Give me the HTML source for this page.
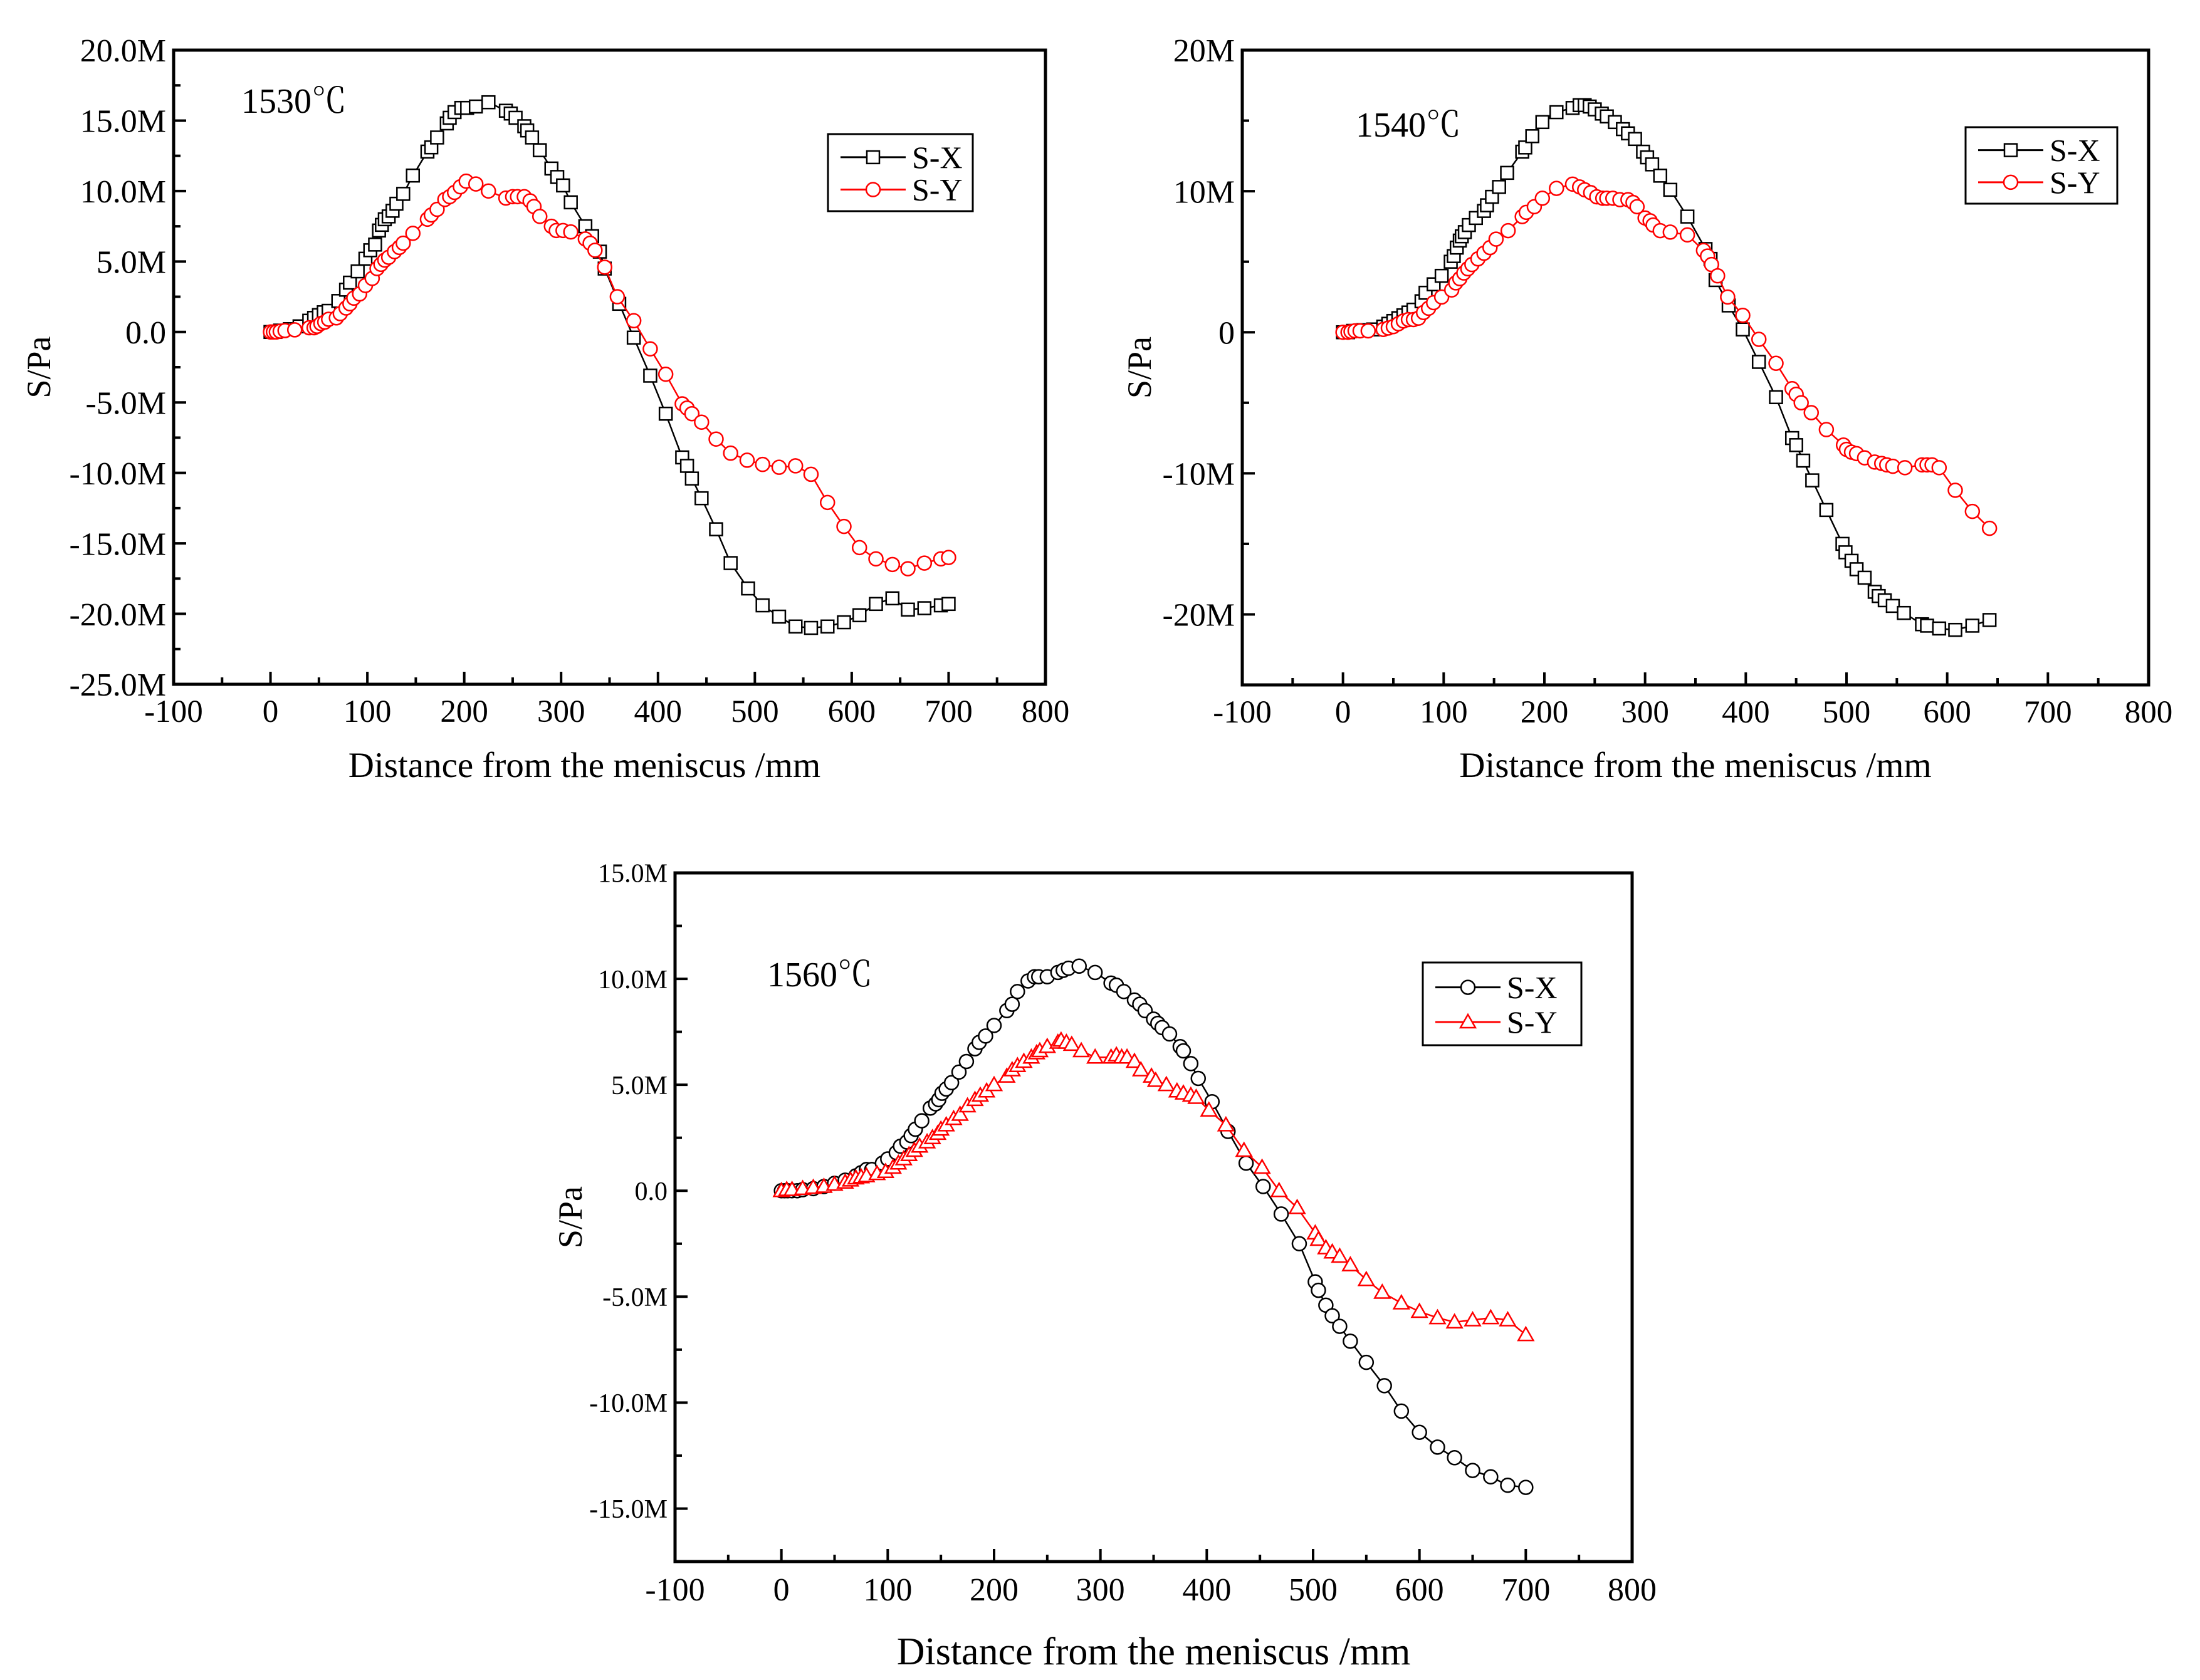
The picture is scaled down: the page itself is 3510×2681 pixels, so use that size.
<!DOCTYPE html>
<html><head><meta charset="utf-8"><style>
html,body{margin:0;padding:0;background:#fff;}
svg{display:block;font-family:"Liberation Serif","Noto Serif CJK SC",serif;}
</style></head><body>
<svg id="fig" width="3510" height="2681" viewBox="0 0 3510 2681" xmlns="http://www.w3.org/2000/svg"></svg>
<script>
// ---- Chart 1 (1530C) data ----
const c1X_x=[0,5,10,20,30,40,45,50,55,60,70,78,82,90,98,103,108,112,115,118,122,126,130,137,147,162,166,172,182,185,190,197,203,212,225,243,248,253,262,265,270,278,290,296,302,310,325,332,340,345,360,375,392,408,425,430,435,445,460,475,493,508,525,542,558,575,592,608,625,642,658,675,692,700];
const c1X_y=[0,0,0.1,0.2,0.4,0.8,1.0,1.2,1.4,1.5,2.2,3.0,3.5,4.3,5.2,5.8,6.2,7.2,7.6,8.0,8.2,8.6,9.1,9.8,11.1,12.8,13.1,13.8,14.8,15.2,15.6,15.9,15.9,16.0,16.3,15.7,15.5,15.2,14.6,14.3,13.8,12.9,11.6,11.0,10.4,9.2,7.5,6.8,5.7,4.5,2.0,-0.4,-3.1,-5.8,-8.9,-9.5,-10.4,-11.8,-14.0,-16.4,-18.2,-19.4,-20.2,-20.9,-21.0,-20.9,-20.6,-20.1,-19.3,-18.9,-19.7,-19.6,-19.4,-19.3];
const c1Y_x=[0,3,6,10,15,25,40,45,48,52,56,60,68,72,78,82,86,92,98,105,110,114,118,122,128,133,137,147,162,166,172,180,185,190,196,202,212,225,243,250,255,262,268,272,278,290,295,302,310,325,330,335,345,358,375,392,408,425,430,435,445,460,475,492,508,525,542,558,575,592,608,625,642,658,675,692,700];
const c1Y_y=[0,0,0,0.05,0.1,0.15,0.3,0.3,0.4,0.6,0.7,0.9,1.0,1.3,1.7,2.0,2.4,2.7,3.3,3.8,4.5,4.8,5.1,5.3,5.7,6.0,6.3,7.0,8.0,8.3,8.7,9.4,9.6,9.9,10.3,10.7,10.5,10.0,9.5,9.6,9.6,9.6,9.3,8.9,8.2,7.5,7.2,7.2,7.1,6.6,6.3,5.8,4.6,2.5,0.8,-1.2,-3.0,-5.1,-5.4,-5.8,-6.4,-7.6,-8.6,-9.1,-9.4,-9.6,-9.5,-10.1,-12.1,-13.8,-15.3,-16.1,-16.5,-16.8,-16.4,-16.1,-16.0];
const c1YTicks=[-25,-20,-15,-10,-5,0,5,10,15,20];
const c1YLabels=["-25.0M","-20.0M","-15.0M","-10.0M","-5.0M","0.0","5.0M","10.0M","15.0M","20.0M"];
// ---- Chart 2 (1540C) data ----
const c2X_x=[0,5,10,20,30,40,45,50,55,60,65,70,78,82,90,98,107,110,113,116,118,121,125,132,140,143,148,155,163,178,181,188,198,212,228,235,240,245,250,257,262,270,278,283,290,298,302,307,315,325,342,360,365,370,383,397,413,430,446,450,457,466,480,496,499,505,510,518,528,532,538,546,557,575,580,592,608,625,642];
const c2X_y=[0,0,0.1,0.15,0.2,0.4,0.6,0.8,1.0,1.2,1.4,1.6,2.2,2.8,3.4,4.0,5.0,5.4,6.0,6.5,6.8,7.1,7.6,8.1,8.6,9.0,9.6,10.3,11.3,12.8,13.1,13.9,14.9,15.6,15.9,16.1,16.1,16.0,15.8,15.5,15.3,14.9,14.4,14.1,13.7,12.8,12.4,11.9,11.1,10.1,8.2,5.9,5.2,3.7,1.9,0.2,-2.1,-4.6,-7.5,-8.0,-9.1,-10.5,-12.6,-15.0,-15.6,-16.2,-16.8,-17.4,-18.4,-18.7,-19.0,-19.4,-19.9,-20.7,-20.8,-21.0,-21.1,-20.8,-20.4];
const c2Y_x=[0,5,8,12,17,25,40,45,50,55,60,65,70,75,80,85,90,98,108,112,116,120,124,128,134,140,146,152,164,178,182,190,198,212,228,235,240,246,252,258,262,268,275,283,288,292,300,305,308,315,325,342,358,362,366,372,382,397,413,430,446,450,455,465,480,497,500,505,510,518,528,535,540,546,558,575,580,585,592,608,625,642];
const c2Y_y=[0,0,0.05,0.1,0.1,0.1,0.2,0.3,0.4,0.6,0.8,0.9,0.9,1.0,1.4,1.7,2.1,2.5,3.0,3.5,3.8,4.2,4.5,4.8,5.2,5.6,6.0,6.6,7.2,8.2,8.5,8.9,9.5,10.2,10.5,10.3,10.1,9.9,9.6,9.5,9.5,9.5,9.4,9.4,9.2,8.9,8.1,7.9,7.6,7.2,7.1,6.9,5.8,5.4,4.8,4.0,2.5,1.2,-0.5,-2.2,-4.0,-4.4,-5.0,-5.7,-6.9,-8.0,-8.3,-8.5,-8.6,-8.9,-9.2,-9.3,-9.4,-9.5,-9.6,-9.4,-9.4,-9.4,-9.6,-11.2,-12.7,-13.9];
const c2YTicks=[-20,-10,0,10,20];
const c2YLabels=["-20M","-10M","0","10M","20M"];
// ---- Chart 3 (1560C) data ----
const c3X_x=[0,3,6,10,15,20,30,40,50,60,70,75,80,85,95,100,108,112,118,122,126,132,140,145,148,151,155,160,167,174,182,186,192,200,212,217,222,232,238,242,250,260,265,270,280,295,310,315,322,332,337,342,350,354,358,365,375,378,385,392,405,420,437,453,470,487,502,505,512,518,525,535,550,567,583,600,617,633,650,667,683,700];
const c3X_y=[0,0,0,0,0,0.05,0.1,0.2,0.35,0.5,0.7,0.85,1.0,1.0,1.3,1.5,1.8,2.1,2.3,2.6,2.9,3.3,3.9,4.1,4.3,4.6,4.8,5.1,5.6,6.1,6.7,7.0,7.3,7.8,8.5,8.8,9.4,9.9,10.1,10.1,10.1,10.3,10.4,10.5,10.6,10.3,9.8,9.7,9.4,9.0,8.8,8.5,8.1,7.9,7.7,7.4,6.8,6.6,6.0,5.3,4.2,2.8,1.3,0.2,-1.1,-2.5,-4.3,-4.7,-5.4,-5.9,-6.4,-7.1,-8.1,-9.2,-10.4,-11.4,-12.1,-12.6,-13.2,-13.5,-13.9,-14.0];
const c3Y_x=[0,5,10,20,30,40,50,60,65,70,75,80,90,98,105,110,115,120,125,130,137,142,147,150,155,162,168,175,182,187,193,200,212,217,222,228,235,240,243,250,260,263,268,273,282,295,310,315,320,325,332,338,348,352,362,372,378,385,390,402,418,435,452,468,485,502,505,512,518,525,535,550,565,583,600,617,633,650,667,683,700];
const c3Y_y=[0,0.05,0.05,0.1,0.15,0.2,0.3,0.4,0.5,0.6,0.65,0.7,0.8,0.9,1.1,1.3,1.5,1.7,1.9,2.1,2.3,2.5,2.7,2.9,3.1,3.4,3.6,4.0,4.3,4.5,4.7,5.0,5.4,5.7,5.9,6.1,6.3,6.5,6.6,6.8,7.0,7.1,7.0,6.9,6.6,6.3,6.3,6.4,6.3,6.3,6.1,5.7,5.4,5.2,5.0,4.7,4.6,4.5,4.4,3.8,3.1,1.9,1.1,0.0,-0.8,-2.0,-2.3,-2.7,-2.9,-3.1,-3.5,-4.2,-4.8,-5.3,-5.7,-6.0,-6.2,-6.1,-6.0,-6.1,-6.8];
const c3YTicks=[-15,-10,-5,0,5,10,15];
const c3YLabels=["-15.0M","-10.0M","-5.0M","0.0","5.0M","10.0M","15.0M"];
const xTicks=[-100,0,100,200,300,400,500,600,700,800];
const xLabels=["-100","0","100","200","300","400","500","600","700","800"];

const NS="http://www.w3.org/2000/svg";
const fig=document.getElementById('fig');
function mk(tag,attrs,parent){const e=document.createElementNS(NS,tag);for(const k in attrs)e.setAttribute(k,attrs[k]);(parent||fig).appendChild(e);return e;}

function chart(cfg){
  const g=mk('g',{});
  
  
  const sx=v=>cfg.L+(v-(-100))/900*(cfg.R-cfg.L);
  const sy=v=>cfg.B-(v-cfg.ymin)/(cfg.ymax-cfg.ymin)*(cfg.B-cfg.T);
  for(let v=-100;v<=800;v+=50){
    const major=(v%100===0);const len=major?20:11;
    const t=mk('line',{x1:sx(v),x2:sx(v),y1:cfg.B,y2:cfg.B-len,stroke:'#000','stroke-width':4},g);
    
    
  }
  xTicks.forEach((v,i)=>{
    const t=mk('text',{x:sx(v),y:cfg.B+cfg.xlabOff,'font-size':cfg.xfs,'text-anchor':'middle'},g);
    t.textContent=xLabels[i];
    
    
  });
  for(let v=cfg.ymin;v<=cfg.ymax+0.001;v+=cfg.minor){
    const major=cfg.yTicks.some(m=>Math.abs(m-v)<1e-6);const len=major?20:11;
    const t=mk('line',{x1:cfg.L,x2:cfg.L+len,y1:sy(v),y2:sy(v),stroke:'#000','stroke-width':4},g);
    
    
  }
  cfg.yTicks.forEach((v,i)=>{
    const t=mk('text',{x:cfg.L-12,y:sy(v)+cfg.yfs*0.35,'font-size':cfg.yfs,'text-anchor':'end'},g);
    t.textContent=cfg.yLabels[i];
    
    
  });
  const fr=mk('rect',{x:cfg.L,y:cfg.T,width:cfg.R-cfg.L,height:cfg.B-cfg.T,fill:'none',stroke:'#000','stroke-width':5},g);
  
  
  function series(xs,ys,color,marker,nm){
    const sg=mk('g',{},g);
    
    
    const pts=xs.map((x,i)=>sx(x).toFixed(1)+','+sy(ys[i]).toFixed(1)).join(' ');
    mk('polyline',{points:pts,fill:'none',stroke:color,'stroke-width':2.5},sg);
    xs.forEach((x,i)=>drawMarker(sg,sx(x),sy(ys[i]),color,marker));
  }
  series(cfg.sx_x,cfg.sx_y,'#000',cfg.mX,'series-s-x');
  series(cfg.sy_x,cfg.sy_y,'#f00',cfg.mY,'series-s-y');
  const lg=mk('g',{},g);
  
  
  const l=cfg.leg;
  mk('rect',{x:l.x,y:l.y,width:l.w,height:l.h,fill:'#fff',stroke:'#000','stroke-width':3},lg);
  [[cfg.mX,'#000','S-X'],[cfg.mY,'#f00','S-Y']].forEach((e,i)=>{
    const yy=l.y+l.h*(i===0?0.3:0.72);
    const eg=mk('g',{},lg);
    
    
    mk('line',{x1:l.x+20,x2:l.x+124,y1:yy,y2:yy,stroke:e[1],'stroke-width':3},eg);
    drawMarker(eg,l.x+72,yy,e[1],e[0]);
    const t=mk('text',{x:l.x+134,y:yy+17,'font-size':50},eg);
    t.textContent=e[2];
  });
  const tt=mk('text',{x:cfg.tx,y:cfg.ty,'font-size':56},g);
  tt.textContent=cfg.temp;
  
  
  const xt=mk('text',{x:(cfg.L+cfg.R)/2+cfg.xtDx,y:cfg.xtY,'font-size':cfg.xtfs,'text-anchor':'middle'},g);
  xt.textContent='Distance from the meniscus /mm';
  
  
  const yt=mk('text',{x:0,y:0,'font-size':54,'text-anchor':'middle',transform:`translate(${cfg.ytX},${(cfg.T+cfg.B)/2}) rotate(-90)`},g);
  yt.textContent='S/Pa';
  
  
}
function drawMarker(p,x,y,c,m){
  if(m==='sq') mk('rect',{x:x-10,y:y-10,width:20,height:20,fill:'#fff',stroke:c,'stroke-width':2.5},p);
  else if(m==='ci') mk('circle',{cx:x,cy:y,r:11,fill:'#fff',stroke:c,'stroke-width':2.5},p);
  else mk('polygon',{points:`${x},${y-12} ${x-12},${y+9} ${x+12},${y+9}`,fill:'#fff',stroke:c,'stroke-width':2.5},p);
}
chart({name:'chart-1530',L:277,R:1668,T:80,B:1092,ymin:-25,ymax:20,minor:2.5,yTicks:c1YTicks,yLabels:c1YLabels,
  yfs:52,xfs:51,xlabOff:60,xtY:1240,xtfs:57,xtDx:-40,ytX:80,
  sx_x:c1X_x,sx_y:c1X_y,sy_x:c1Y_x,sy_y:c1Y_y,mX:'sq',mY:'ci',
  leg:{x:1321,y:214,w:231,h:123},temp:'1530℃',tx:385,ty:180});
chart({name:'chart-1540',L:1982,R:3428,T:80,B:1093,ymin:-25,ymax:20,minor:5,yTicks:c2YTicks,yLabels:c2YLabels,
  yfs:52,xfs:51,xlabOff:60,xtY:1240,xtfs:57,xtDx:0,ytX:1836,
  sx_x:c2X_x,sx_y:c2X_y,sy_x:c2Y_x,sy_y:c2Y_y,mX:'sq',mY:'ci',
  leg:{x:3136,y:203,w:242,h:122},temp:'1540℃',tx:2163,ty:218});
chart({name:'chart-1560',L:1077,R:2604,T:1393,B:2492,ymin:-17.5,ymax:15,minor:2.5,yTicks:c3YTicks,yLabels:c3YLabels,
  yfs:42,xfs:52,xlabOff:62,xtY:2656,xtfs:62,xtDx:0,ytX:928,
  sx_x:c3X_x,sx_y:c3X_y,sy_x:c3Y_x,sy_y:c3Y_y,mX:'ci',mY:'tri',
  leg:{x:2270,y:1536,w:253,h:132},temp:'1560℃',tx:1224,ty:1574});
</script>
</body></html>
